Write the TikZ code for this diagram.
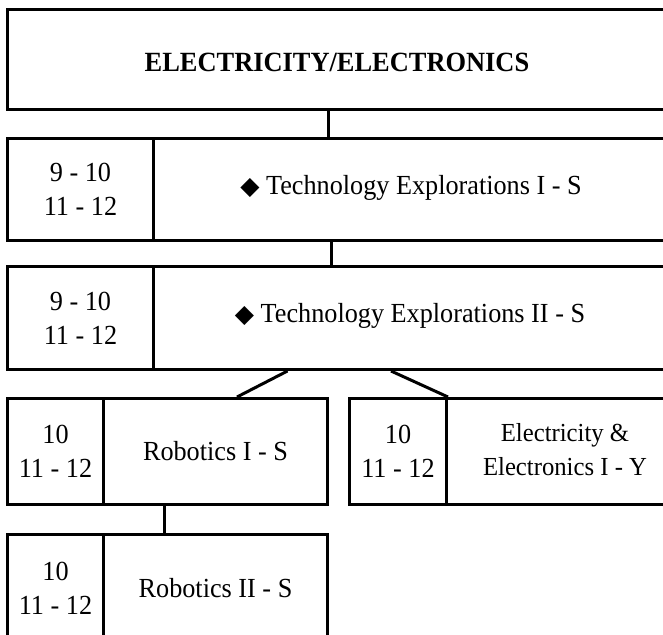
\documentclass[tikz,border=0pt]{standalone}
\usepackage{fontspec}
\setmainfont{Liberation Serif}[FakeStretch=0.95]
\newfontfamily\symfont{DejaVu Sans}
\newcommand{\dia}{{\symfont\fontsize{12.5}{12.5}\selectfont ◆}}

\begin{document}
\begin{tikzpicture}[
    x=0.5pt, y=-0.5pt, line width=1.5pt,
    every node/.style={font=\fontsize{13.8}{17}\selectfont, align=center},
    box/.style={rectangle, draw, anchor=north west, inner sep=0pt},
    link/.style={draw, line width=1.5pt},
    titleText/.style={font=\fontsize{13.9}{15}\selectfont\bfseries}
]
    \useasboundingbox (0,0) rectangle (663,635);
    \clip (0,0) rectangle (663,635);

    % title
    \node[box, minimum width=357pt, minimum height=50pt] (top) at (6,8) {};
    \node[titleText] (topT) at (337,62) {ELECTRICITY/ELECTRONICS};

    % exploration rows
    \node[box, minimum width=73pt, minimum height=51pt] (g1) at (6,137) {9 - 10\\11 - 12};
    \node[box, minimum width=285pt, minimum height=51pt] (c1) at (152,137) {};
    \node (c1T) at (411,188) {\dia\ Technology Explorations I - S};

    \node[box, minimum width=73pt, minimum height=51.5pt] (g2) at (6,265) {9 - 10\\11 - 12};
    \node[box, minimum width=285pt, minimum height=51.5pt] (c2) at (152,265) {};
    \node (c2T) at (410,316) {\dia\ Technology Explorations II - S};

    % branches
    \node[box, minimum width=48pt, minimum height=53pt] (g3) at (6,397) {10\\11 - 12};
    \node[box, minimum width=112pt, minimum height=53pt] (c3) at (102,397) {Robotics I - S};

    \node[box, minimum width=48.5pt, minimum height=53pt] (g4) at (348,397) {10\\11 - 12};
    \node[box, minimum width=150pt, minimum height=53pt] (c4) at (445,397) {};
    \node[font=\fontsize{13}{17}\selectfont] (c4T) at (565,450) {Electricity \&\\Electronics I - Y};

    \node[box, minimum width=48pt, minimum height=53.5pt] (g5) at (6,533) {10\\11 - 12};
    \node[box, minimum width=112pt, minimum height=53.5pt] (c5) at (102,533) {Robotics II - S};

    % connectors
    \coordinate (j1) at (328,0);
    \coordinate (j2) at (331,0);
    \coordinate (jl) at (287.5,0);
    \coordinate (jr) at (391,0);
    \coordinate (kl) at (237,0);
    \coordinate (j3) at (164,0);
    \draw[link] (top.south -| j1) -- (c1.north -| j1);
    \draw[link] (c1.south -| j2) -- (c2.north -| j2);
    \draw[link] (c2.south -| jl) -- (c3.north -| kl);
    \draw[link] (c2.south -| jr) -- (g4.north east);
    \draw[link] (c3.south -| j3) -- (c5.north -| j3);
\end{tikzpicture}
\end{document}
